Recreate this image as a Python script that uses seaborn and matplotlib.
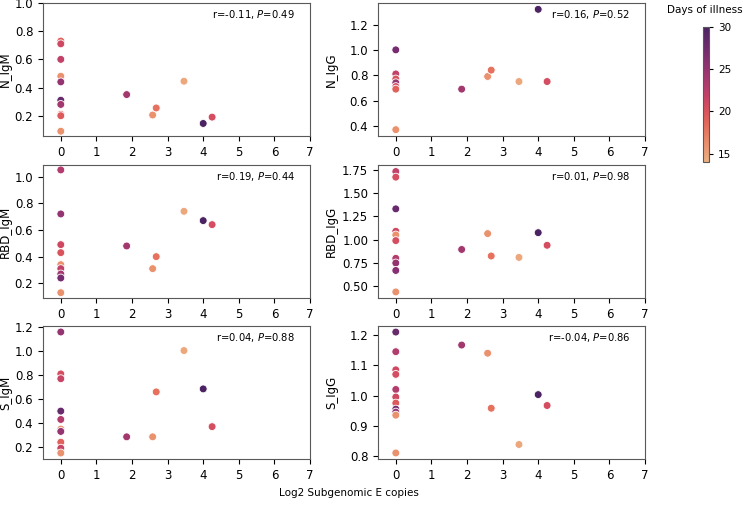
import numpy as np
import pandas as pd
import matplotlib
matplotlib.use("Agg")
import matplotlib.pyplot as plt
import seaborn as sns

# ---------------- data ----------------
panels = ["N_IgM", "N_IgG", "RBD_IgM", "RBD_IgG", "S_IgM", "S_IgG"]
stats = ["r=-0.11, $P$=0.49", "r=0.16, $P$=0.52", "r=0.19, $P$=0.44",
         "r=0.01, $P$=0.98", "r=0.04, $P$=0.88", "r=-0.04, $P$=0.86"]

# samples with detectable subgenomic E
x_pos = [1.85, 2.58, 2.68, 3.46, 4.00, 4.25]
days_pos = [24, 16, 18, 14.5, 30, 20.5]

# samples with zero copies (x = 0): y values and days, per panel
zero_y = {
    "N_IgM":   [0.73, 0.71, 0.60, 0.48, 0.44, 0.31, 0.28, 0.21, 0.20, 0.09],
    "N_IgG":   [1.00, 0.81, 0.77, 0.74, 0.71, 0.69, 0.37],
    "RBD_IgM": [1.05, 0.72, 0.49, 0.43, 0.34, 0.31, 0.27, 0.24, 0.13],
    "RBD_IgG": [1.73, 1.67, 1.33, 1.09, 1.05, 0.99, 0.80, 0.75, 0.67, 0.44],
    "S_IgM":   [1.16, 0.81, 0.77, 0.50, 0.43, 0.35, 0.33, 0.24, 0.19, 0.15],
    "S_IgG":   [1.21, 1.145, 1.085, 1.07, 1.02, 0.995, 0.975, 0.955, 0.945, 0.935, 0.81],
}
zero_days = {
    "N_IgM":   [19, 21, 22, 16, 25, 28, 24, 19, 19.5, 16],
    "N_IgG":   [27, 22, 20, 25, 21, 19, 16],
    "RBD_IgM": [23, 25, 21, 20, 16, 22, 24, 27, 16],
    "RBD_IgG": [22, 20.5, 28, 21, 16, 20.5, 23, 25, 26, 16],
    "S_IgM":   [25, 20.5, 21.5, 28, 23, 16, 25, 19, 21.5, 16],
    "S_IgG":   [28, 23, 21, 20.5, 23, 21, 19.5, 27, 25, 16, 16],
}
pos_y = {
    "N_IgM":   [0.35, 0.205, 0.255, 0.445, 0.145, 0.19],
    "N_IgG":   [0.69, 0.79, 0.84, 0.75, 1.32, 0.75],
    "RBD_IgM": [0.48, 0.31, 0.40, 0.74, 0.67, 0.64],
    "RBD_IgG": [0.895, 1.065, 0.825, 0.81, 1.075, 0.94],
    "S_IgM":   [0.285, 0.285, 0.66, 1.005, 0.685, 0.37],
    "S_IgG":   [1.167, 1.14, 0.958, 0.838, 1.003, 0.967],
}
ylims = {
    "N_IgM": (0.056, 1.0), "N_IgG": (0.32, 1.37),
    "RBD_IgM": (0.09, 1.087), "RBD_IgG": (0.375, 1.80),
    "S_IgM": (0.10, 1.21), "S_IgG": (0.79, 1.23),
}
yticks = {
    "N_IgM": [0.2, 0.4, 0.6, 0.8, 1.0],
    "N_IgG": [0.4, 0.6, 0.8, 1.0, 1.2],
    "RBD_IgM": [0.2, 0.4, 0.6, 0.8, 1.0],
    "RBD_IgG": [0.50, 0.75, 1.00, 1.25, 1.50, 1.75],
    "S_IgM": [0.2, 0.4, 0.6, 0.8, 1.0, 1.2],
    "S_IgG": [0.8, 0.9, 1.0, 1.1, 1.2],
}
cbar_ticks = [15, 20, 25, 30]
vmin, vmax = 14, 30

# ---------------- figure ----------------
fig = plt.figure(figsize=(7.43, 5.05), dpi=100)
cmap = sns.color_palette("flare", as_cmap=True)

lefts = [43 / 743, 378 / 743]
bottoms = [1 - 136 / 505, 1 - 298 / 505, 1 - 459 / 505]
w, h = 267 / 743, 133 / 505

for i, name in enumerate(panels):
    r, c = divmod(i, 2)
    ax = fig.add_axes([lefts[c], bottoms[r], w, h])
    df = pd.DataFrame({
        "x": [0.0] * len(zero_y[name]) + x_pos,
        "y": zero_y[name] + pos_y[name],
        "days": zero_days[name] + days_pos,
    })
    sns.scatterplot(data=df, x="x", y="y", hue="days", palette=cmap,
                    hue_norm=(vmin, vmax), legend=False, ax=ax,
                    s=32, edgecolor="white", linewidth=0.6)
    ax.set_xlim(-0.5, 7)
    ax.set_xticks(range(0, 8))
    ax.set_ylim(*ylims[name])
    ax.set_yticks(yticks[name])
    ax.set_xlabel("")
    ax.set_ylabel(name, fontsize=8.5)
    ax.yaxis.set_label_coords(-0.116 if c == 0 else -0.15, 0.5)
    ax.text(0.944, 0.91, stats[i], transform=ax.transAxes,
            ha="right", va="center", fontsize=7.2)
    for sp in ax.spines.values():
        sp.set_color("0.35")
    ax.tick_params(labelsize=8.5, colors="black", length=3.5)

fig.text(0.469, 0.024, "Log2 Subgenomic E copies", ha="center", va="center",
         fontsize=7.5)

cax = fig.add_axes([703 / 743, 1 - 162 / 505, 6 / 743, 135 / 505])
sm = plt.cm.ScalarMappable(cmap=cmap, norm=plt.Normalize(vmin, vmax))
cb = fig.colorbar(sm, cax=cax)
cb.set_ticks(cbar_ticks)
cb.outline.set_edgecolor("0.35")
cb.ax.tick_params(labelsize=7.5, length=3)
fig.text(705 / 743, 1 - 10 / 505, "Days of illness", ha="center", va="center",
         fontsize=7.5)

fig.savefig("out.png", dpi=100)
